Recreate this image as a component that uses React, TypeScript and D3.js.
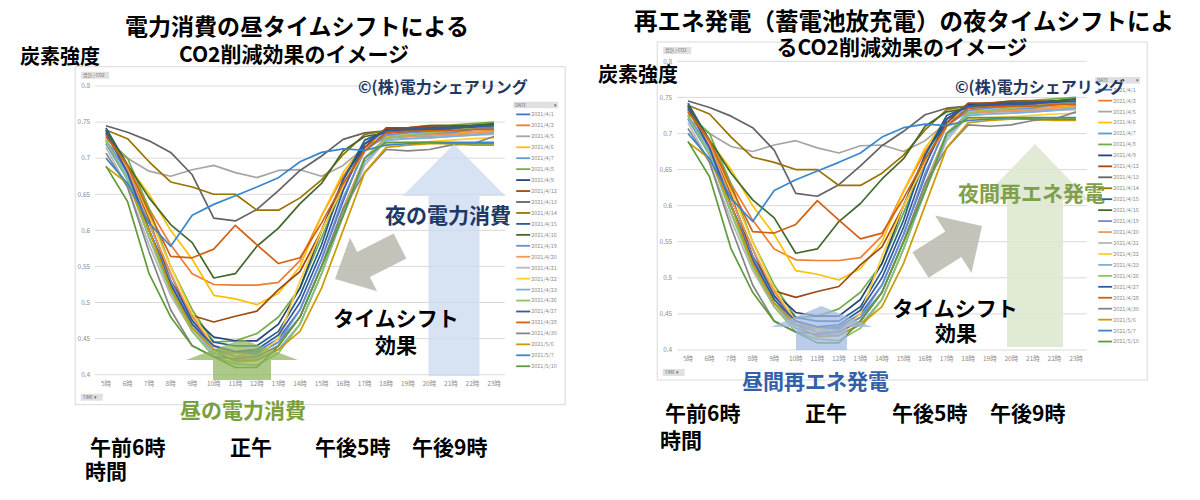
import * as d3 from "d3"

const hours = ["5時", "6時", "7時", "8時", "9時", "10時", "11時", "12時", "13時", "14時", "15時", "16時", "17時", "18時", "19時", "20時", "21時", "22時", "23時"]
const yTicks = [0.4, 0.45, 0.5, 0.55, 0.6, 0.65, 0.7, 0.75, 0.8]

const dates = ["2021/4/1", "2021/4/2", "2021/4/5", "2021/4/6", "2021/4/7", "2021/4/8", "2021/4/9", "2021/4/12", "2021/4/13", "2021/4/14", "2021/4/15", "2021/4/16", "2021/4/19", "2021/4/20", "2021/4/21", "2021/4/22", "2021/4/23", "2021/4/26", "2021/4/27", "2021/4/28", "2021/4/30", "2021/5/6", "2021/5/7", "2021/5/10"]
const colors = ["#4472C4", "#ED7D31", "#A5A5A5", "#FFC000", "#5B9BD5", "#70AD47", "#264478", "#9E480E", "#636363", "#997300", "#255E91", "#43682B", "#698ED0", "#F1975A", "#B7B7B7", "#FFCD33", "#7CAFDD", "#8CC168", "#335AA1", "#D26012", "#848484", "#CC9A00", "#3A86CE", "#5E9B3A"]

// 炭素強度 (合計 / CO2), 5時..23時
const d0401 = [0.738, 0.68, 0.6, 0.53, 0.475, 0.44, 0.43, 0.432, 0.45, 0.49, 0.56, 0.64, 0.715, 0.735, 0.737, 0.738, 0.74, 0.745, 0.748]
const d0402 = [0.735, 0.69, 0.63, 0.58, 0.54, 0.525, 0.524, 0.524, 0.528, 0.558, 0.62, 0.675, 0.715, 0.73, 0.732, 0.735, 0.735, 0.737, 0.738]
const d0405 = [0.72, 0.7, 0.682, 0.675, 0.684, 0.69, 0.68, 0.673, 0.683, 0.684, 0.675, 0.69, 0.715, 0.728, 0.73, 0.73, 0.732, 0.733, 0.735]
const d0406 = [0.733, 0.69, 0.65, 0.6, 0.56, 0.51, 0.505, 0.497, 0.513, 0.55, 0.62, 0.68, 0.72, 0.73, 0.732, 0.733, 0.735, 0.736, 0.738]
const d0407 = [0.72, 0.67, 0.59, 0.52, 0.465, 0.435, 0.425, 0.428, 0.445, 0.48, 0.55, 0.63, 0.7, 0.728, 0.73, 0.733, 0.735, 0.74, 0.742]
const d0408 = [0.728, 0.7, 0.63, 0.55, 0.49, 0.445, 0.447, 0.457, 0.48, 0.52, 0.59, 0.66, 0.72, 0.74, 0.742, 0.745, 0.746, 0.748, 0.75]
const d0409 = [0.74, 0.69, 0.6, 0.53, 0.48, 0.452, 0.447, 0.447, 0.47, 0.52, 0.6, 0.67, 0.72, 0.74, 0.742, 0.743, 0.743, 0.744, 0.745]
const d0412 = [0.732, 0.69, 0.615, 0.53, 0.482, 0.473, 0.481, 0.488, 0.518, 0.543, 0.6, 0.66, 0.715, 0.742, 0.742, 0.745, 0.745, 0.745, 0.745]
const d0413 = [0.745, 0.736, 0.724, 0.708, 0.677, 0.617, 0.613, 0.629, 0.655, 0.683, 0.703, 0.726, 0.735, 0.738, 0.74, 0.74, 0.741, 0.742, 0.742]
const d0414 = [0.739, 0.727, 0.695, 0.667, 0.66, 0.65, 0.65, 0.628, 0.628, 0.645, 0.67, 0.705, 0.733, 0.738, 0.74, 0.742, 0.743, 0.744, 0.745]
const d0415 = [0.742, 0.69, 0.61, 0.54, 0.475, 0.445, 0.44, 0.44, 0.46, 0.51, 0.58, 0.67, 0.725, 0.738, 0.74, 0.742, 0.743, 0.745, 0.747]
const d0416 = [0.738, 0.691, 0.645, 0.608, 0.583, 0.534, 0.54, 0.578, 0.603, 0.637, 0.665, 0.71, 0.73, 0.735, 0.738, 0.74, 0.742, 0.745, 0.748]
const d0419 = [0.725, 0.68, 0.6, 0.53, 0.47, 0.435, 0.43, 0.43, 0.445, 0.49, 0.56, 0.645, 0.71, 0.732, 0.735, 0.737, 0.738, 0.74, 0.742]
const d0420 = [0.732, 0.685, 0.61, 0.54, 0.48, 0.44, 0.425, 0.425, 0.44, 0.48, 0.55, 0.63, 0.7, 0.728, 0.73, 0.732, 0.733, 0.735, 0.737]
const d0421 = [0.715, 0.66, 0.58, 0.51, 0.46, 0.43, 0.42, 0.422, 0.435, 0.47, 0.54, 0.62, 0.69, 0.725, 0.727, 0.728, 0.73, 0.732, 0.733]
const d0422 = [0.73, 0.69, 0.62, 0.55, 0.485, 0.44, 0.43, 0.425, 0.45, 0.53, 0.6, 0.66, 0.71, 0.72, 0.722, 0.723, 0.725, 0.727, 0.728]
const d0423 = [0.722, 0.675, 0.6, 0.525, 0.465, 0.43, 0.42, 0.42, 0.435, 0.47, 0.54, 0.62, 0.695, 0.725, 0.727, 0.728, 0.73, 0.732, 0.735]
const d0426 = [0.725, 0.67, 0.59, 0.515, 0.46, 0.425, 0.415, 0.413, 0.43, 0.47, 0.54, 0.625, 0.7, 0.728, 0.732, 0.735, 0.738, 0.742, 0.745]
const d0427 = [0.735, 0.68, 0.6, 0.525, 0.47, 0.44, 0.432, 0.435, 0.455, 0.5, 0.57, 0.655, 0.72, 0.738, 0.74, 0.74, 0.742, 0.743, 0.745]
const d0428 = [0.73, 0.69, 0.625, 0.564, 0.562, 0.574, 0.607, 0.58, 0.554, 0.562, 0.61, 0.665, 0.71, 0.735, 0.737, 0.738, 0.738, 0.74, 0.74]
const d0430 = [0.707, 0.66, 0.57, 0.49, 0.44, 0.425, 0.422, 0.425, 0.44, 0.48, 0.55, 0.63, 0.68, 0.712, 0.71, 0.712, 0.718, 0.72, 0.73]
const d0506 = [0.688, 0.665, 0.6, 0.52, 0.465, 0.435, 0.418, 0.42, 0.435, 0.46, 0.52, 0.6, 0.68, 0.715, 0.718, 0.72, 0.72, 0.718, 0.718]
const d0507 = [0.7, 0.665, 0.61, 0.578, 0.621, 0.636, 0.648, 0.66, 0.673, 0.695, 0.708, 0.713, 0.711, 0.718, 0.72, 0.722, 0.722, 0.722, 0.722]
const d0510 = [0.689, 0.64, 0.54, 0.48, 0.44, 0.425, 0.41, 0.41, 0.44, 0.48, 0.55, 0.62, 0.7, 0.722, 0.722, 0.722, 0.72, 0.72, 0.72]

const series = [d0401, d0402, d0405, d0406, d0407, d0408, d0409, d0412, d0413, d0414, d0415, d0416, d0419, d0420, d0421, d0422, d0423, d0426, d0427, d0428, d0430, d0506, d0507, d0510]

const JP = "'Noto Sans CJK JP', 'Noto Sans', sans-serif"

function arrow(tx: number, ty: number, hx: number, hy: number, shaft: number, headW: number, headL: number) {
  const len = Math.hypot(hx - tx, hy - ty)
  const ux = (hx - tx) / len, uy = (hy - ty) / len
  const nx = -uy, ny = ux
  const bx = hx - ux * headL, by = hy - uy * headL
  return [
    [tx + nx * shaft, ty + ny * shaft], [bx + nx * shaft, by + ny * shaft], [bx + nx * headW, by + ny * headW],
    [hx, hy],
    [bx - nx * headW, by - ny * headW], [bx - nx * shaft, by - ny * shaft], [tx - nx * shaft, ty - ny * shaft],
  ].map(p => p.join(",")).join(" ")
}

function Button({ x, y, w, label }: { x: number; y: number; w: number; label: string }) {
  return (
    <g>
      <rect x={x} y={y} width={w} height={7} fill="#e0e0e0" />
      <text x={x + 2} y={y + 5} fontSize={4.5} fill="#666" fontFamily={JP}>{label}</text>
    </g>
  )
}

// one Excel pivot chart; x0 = left of the first category band, yB = pixel of 0.4
function Panel({ x0, yB }: { x0: number; yB: number }) {
  const x = d3.scalePoint<string>().domain(hours).range([x0, x0 + 409.6]).padding(0.5)
  const y = d3.scaleLinear().domain([0.4, 0.8]).range([yB, yB - 288.7])
  const line = d3.line<number>().x((_, i) => x(hours[i])!).y(d => y(d))
  return (
    <g>
      <rect x={x0 - 20} y={yB - 308} width={490} height={338} fill="#fff" stroke="#d9d9d9" />
      <Button x={x0 - 14} y={yB - 303} w={28} label="合計 / CO2" />
      {yTicks.map(t => (
        <g key={t}>
          <line x1={x0} x2={x0 + 409.6} y1={y(t)} y2={y(t)} stroke="#d9d9d9" strokeWidth={1} />
          <text x={x0 - 5} y={y(t)} dy="0.35em" textAnchor="end" fontSize={6.5} fill="#8c8c8c" fontFamily={JP}>{String(t)}</text>
        </g>
      ))}
      {hours.map(h => (
        <text key={h} x={x(h)} y={yB + 9} dy="0.35em" textAnchor="middle" fontSize={6.5} fill="#8c8c8c" fontFamily={JP}>{h}</text>
      ))}
      <Button x={x0 - 14.5} y={yB + 19} w={22} label="TIME ▾" />
      {series.map((s, i) => (
        <path key={dates[i]} d={line(s)!} fill="none" stroke={colors[i]} strokeWidth={1.7} strokeLinejoin="round" />
      ))}
      <rect x={x0 + 418} y={yB - 273} width={45} height={6.5} fill="#e0e0e0" />
      <text x={x0 + 420} y={yB - 268.2} fontSize={4.5} fill="#666" fontFamily={JP}>DATE</text>
      <text x={x0 + 459} y={yB - 268.2} fontSize={4.5} fill="#666" fontFamily={JP}>▾</text>
      {dates.map((d, i) => {
        const ly = yB - 260.3 + i * 10.95
        return (
          <g key={d}>
            <line x1={x0 + 421} x2={x0 + 435} y1={ly} y2={ly} stroke={colors[i]} strokeWidth={1.8} />
            <text x={x0 + 436} y={ly} dy="0.35em" fontSize={5.5} fill="#8c8c8c" fontFamily={JP}>{d}</text>
          </g>
        )
      })}
    </g>
  )
}

function T({ x, y, s, size = 21, fill = "#000", anchor = "start" }: { x: number; y: number; s: string; size?: number; fill?: string; anchor?: string }) {
  return <text x={x} y={y} dy="0.36em" fontSize={size} fill={fill} fontWeight={700} fontFamily={JP} textAnchor={anchor as any}>{s}</text>
}

export default function App() {
  return (
    <div style={{ position: "absolute", left: 0, top: 0 }}>
      <svg width={1200} height={500} style={{ display: "block", background: "#fff" }}>
        <Panel x0={95.2} yB={374.7} />
        <Panel x0={677.2} yB={350} />

        {/* left annotations */}
        <polygon points={arrow(454, 376, 454, 144, 25.5, 51.5, 52)} fill="#c9d8ef" opacity={0.75} />
        <polygon points={arrow(400, 246, 335, 279, 14, 30, 32)} fill="#bdbdb1" opacity={0.9} />
        <polygon points={arrow(242, 380, 242, 339, 29, 56, 21)} fill="#8db45a" opacity={0.72} />
        <T x={297} y={27} s="電力消費の昼タイムシフトによる" size={23} anchor="middle" />
        <T x={294} y={54} s="CO2削減効果のイメージ" size={21} anchor="middle" />
        <T x={20} y={57} s="炭素強度" size={20} />
        <T x={358} y={87} s="©(株)電力シェアリング" size={16} fill="#1f3864" />
        <T x={385} y={215} s="夜の電力消費" fill="#203864" />
        <T x={396} y={318} s="タイムシフト" anchor="middle" />
        <T x={396} y={345} s="効果" anchor="middle" />
        <T x={180} y={410} s="昼の電力消費" fill="#7aa03e" />
        <T x={90} y={447} s="午前6時" />
        <T x={230} y={447} s="正午" />
        <T x={315} y={447} s="午後5時" />
        <T x={412} y={447} s="午後9時" />
        <T x={85} y={471} s="時間" />

        {/* right annotations */}
        <polygon points={arrow(1035, 347, 1035, 144, 28, 54, 56)} fill="#dde8cf" opacity={0.9} />
        <polygon points={arrow(920.5, 265, 982, 226, 15, 34, 34)} fill="#bdbdb1" opacity={0.9} />
        <polygon points={arrow(821.5, 350, 821.5, 306, 25.5, 50.5, 21)} fill="#9fb9e0" opacity={0.72} />
        <T x={904} y={22} s="再エネ発電（蓄電池放充電）の夜タイムシフトによ" size={23.5} anchor="middle" />
        <T x={902} y={47} s="るCO2削減効果のイメージ" size={21} anchor="middle" />
        <T x={598} y={75} s="炭素強度" size={20} />
        <T x={955} y={87} s="©(株)電力シェアリング" size={16} fill="#1f3864" />
        <T x={958} y={193} s="夜間再エネ発電" fill="#7f9f4b" />
        <T x={955} y={308} s="タイムシフト" anchor="middle" />
        <T x={956} y={333} s="効果" anchor="middle" />
        <T x={742} y={381} s="昼間再エネ発電" fill="#3360a8" />
        <T x={665} y={413} s="午前6時" />
        <T x={805} y={413} s="正午" />
        <T x={892} y={413} s="午後5時" />
        <T x={990} y={413} s="午後9時" />
        <T x={660} y={440} s="時間" />
      </svg>
    </div>
  )
}
